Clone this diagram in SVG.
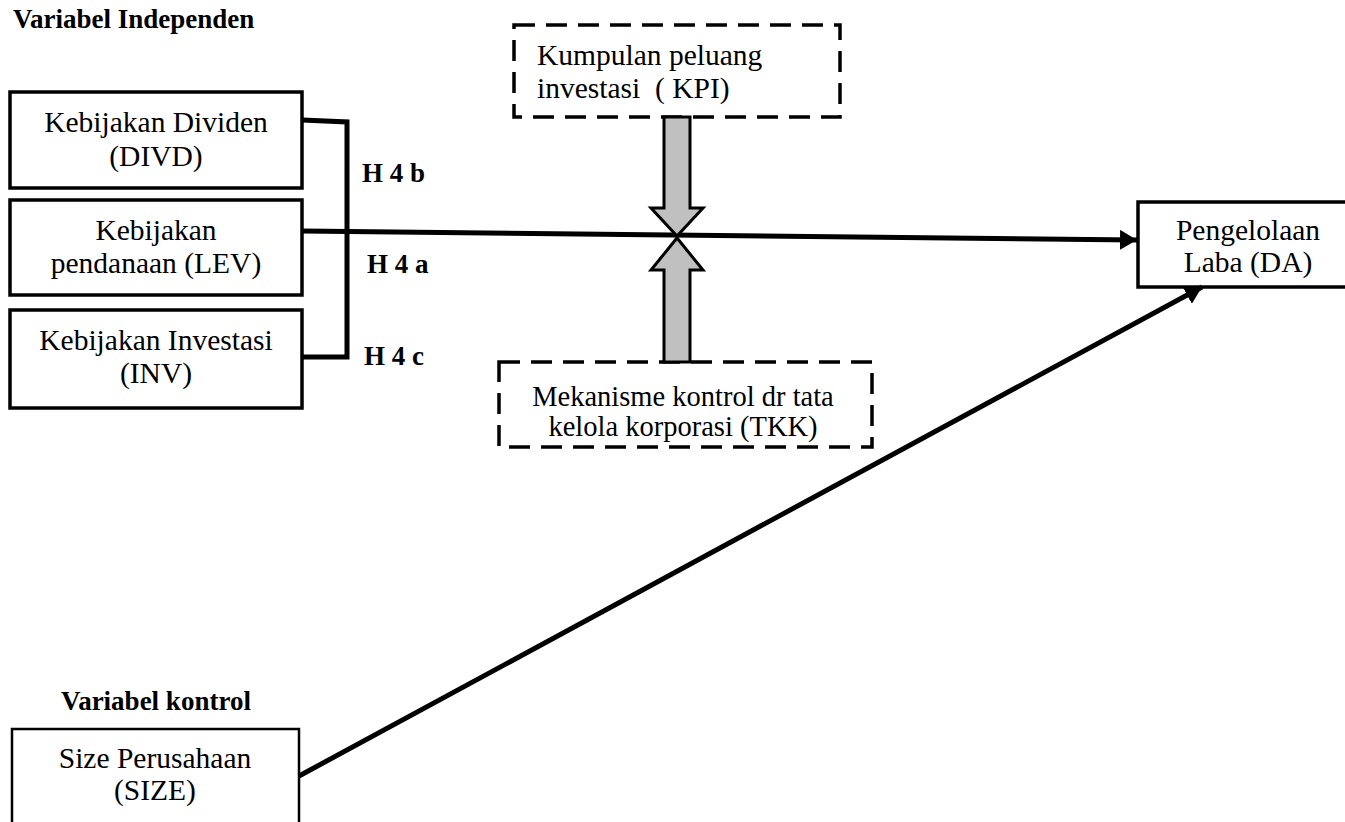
<svg xmlns="http://www.w3.org/2000/svg" width="1345" height="822" viewBox="0 0 1345 822">
<style>
text{font-family:"Liberation Serif","Times New Roman",serif;fill:#000}
.t{font-size:29.5px;text-anchor:middle}
.tl{font-size:29.5px}
.ts{font-size:28.5px;text-anchor:middle}
.b{font-size:27px;font-weight:bold}
.box{fill:#fff;stroke:#000;stroke-width:3.5}
.dash{fill:#fff;stroke:#000;stroke-width:3.5;stroke-dasharray:21 11}
.ln{fill:none;stroke:#000;stroke-width:5}
.gray{fill:#c0c0c0;stroke:#000;stroke-width:3;stroke-linejoin:miter}
</style>
<defs>
<marker id="ah" markerWidth="4" markerHeight="4" refX="3.4" refY="2" orient="auto" markerUnits="strokeWidth">
<path d="M0,0 L3.4,2 L0,4 Z" fill="#000"/>
</marker>
</defs>
<text class="b" x="13" y="28">Variabel Independen</text>
<text class="b" x="156" y="710" text-anchor="middle">Variabel kontrol</text>
<g id="divd">
<rect class="box" x="10" y="92" width="292" height="96"/>
<text class="t" x="156" y="132">Kebijakan Dividen</text>
<text class="t" x="156" y="166">(DIVD)</text>
</g>
<g id="lev">
<rect class="box" x="10" y="200" width="292" height="95"/>
<text class="t" x="156" y="240">Kebijakan</text>
<text class="t" x="156" y="273">pendanaan (LEV)</text>
</g>
<g id="inv">
<rect class="box" x="10" y="310" width="292" height="98"/>
<text class="t" x="156" y="350">Kebijakan Investasi</text>
<text class="t" x="156" y="383">(INV)</text>
</g>
<g id="kpi">
<rect class="dash" x="514" y="25" width="326" height="92"/>
<text class="tl" x="537" y="65">Kumpulan peluang</text>
<text class="tl" x="537" y="98" xml:space="preserve">investasi  ( KPI)</text>
</g>
<g id="tkk">
<rect class="dash" x="499" y="362" width="373" height="85"/>
<text class="ts" x="683" y="406">Mekanisme kontrol dr tata</text>
<text class="ts" x="683" y="436">kelola korporasi (TKK)</text>
</g>
<g id="da">
<rect class="box" x="1138" y="202" width="220" height="85"/>
<text class="t" x="1248" y="240">Pengelolaan</text>
<text class="t" x="1248" y="272">Laba (DA)</text>
</g>
<g id="size">
<rect x="12" y="729" width="287" height="110" fill="#fff" stroke="#000" stroke-width="2.5"/>
<text class="t" x="155" y="768">Size Perusahaan</text>
<text class="t" x="155" y="800">(SIZE)</text>
</g>
<g id="connectors">
<polyline class="ln" points="302,120 347,122 347,357 302,357"/>
<line class="ln" x1="302" y1="231" x2="1137" y2="240" marker-end="url(#ah)"/>
<line class="ln" x1="299" y1="776" x2="1202" y2="287" marker-end="url(#ah)"/>
<path class="gray" d="M664,117 L690,117 L690,208 L703,208 L677,236 L651,208 L664,208 Z"/>
<path class="gray" d="M664,362 L690,362 L690,270 L703,270 L677,238 L651,270 L664,270 Z"/>
</g>
<text class="b" x="362" y="182">H 4 b</text>
<text class="b" x="367" y="273">H 4 a</text>
<text class="b" x="364" y="365">H 4 c</text>
</svg>
